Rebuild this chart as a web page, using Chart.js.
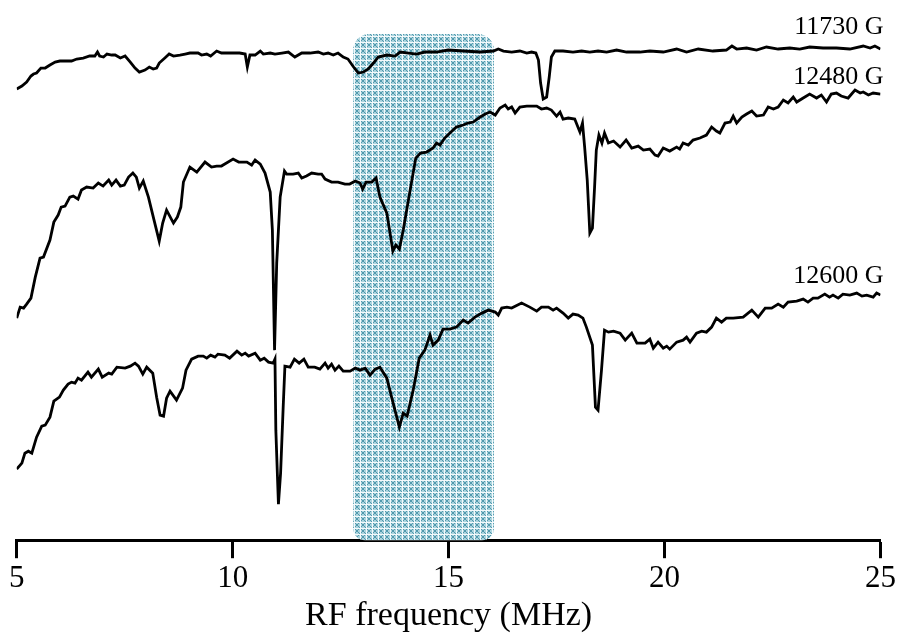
<!DOCTYPE html>
<html>
<head>
<meta charset="utf-8">
<script src="https://cdn.jsdelivr.net/npm/chart.js@4.4.0/dist/chart.umd.min.js"></script>
<style>
  body { margin: 0; background: #fff; }
  #wrap { width: 904px; height: 633px; }
</style>
</head>
<body>
<div id="wrap"><canvas id="grafico"></canvas></div>
<script>
// trazas de RMN, eje x en MHz, señal en unidades arbitrarias (desplazadas)
const labels = ['11730 G', '12480 G', '12600 G'];

const freq1 = [5.00,5.12,5.23,5.33,5.39,5.46,5.56,5.66,5.77,5.89,6.00,6.16,6.27,6.39,6.54,6.69,6.81,6.87,6.92,7.01,7.09,7.20,7.28,7.40,7.51,7.63,7.74,7.84,7.97,8.07,8.16,8.24,8.30,8.43,8.53,8.63,8.78,8.90,9.01,9.13,9.20,9.28,9.40,9.49,9.63,9.74,9.89,10.01,10.16,10.29,10.34,10.40,10.52,10.64,10.71,10.87,10.98,11.14,11.29,11.44,11.60,11.79,11.98,12.10,12.21,12.33,12.44,12.56,12.67,12.80,12.91,13.03,13.14,13.26,13.37,13.57,13.76,13.88,14.07,14.26,14.45,14.72,14.99,15.34,15.73,16.04,16.15,16.27,16.46,16.65,16.81,16.92,17.02,17.08,17.13,17.19,17.27,17.33,17.38,17.46,17.65,17.88,18.08,18.27,18.46,18.66,18.89,19.12,19.43,19.66,19.97,20.28,20.51,20.78,21.12,21.43,21.56,21.67,21.90,22.13,22.36,22.63,22.90,23.13,23.36,23.67,23.98,24.29,24.60,24.76,24.87,25.00];
const sig1 = [451,454,458,464,466,467,472,472,475,478,479,479,479,481,482,484,484,488,484,483,486,485,485,482,484,478,472,468,470,473,471,472,477,482,486,484,485,486,487,487,487,485,486,484,489,487,487,487,487,486,473,485,485,489,486,487,486,487,488,483,487,487,488,486,487,485,487,483,481,473,467,468,471,477,483,485,484,488,487,486,488,488,490,489,488,489,491,489,488,489,487,488,487,480,457,441,443,463,483,489,489,488,489,488,489,488,490,488,488,489,488,491,488,491,489,490,494,491,492,490,493,491,492,491,493,492,492,491,494,492,494,491];

const freq2 = [5.00,5.08,5.16,5.23,5.33,5.43,5.54,5.62,5.77,5.86,5.96,6.03,6.12,6.23,6.31,6.42,6.50,6.62,6.77,6.89,7.00,7.13,7.20,7.30,7.40,7.49,7.59,7.69,7.77,7.84,7.93,8.05,8.18,8.30,8.38,8.47,8.63,8.72,8.80,8.86,9.01,9.17,9.36,9.51,9.63,9.74,10.01,10.14,10.33,10.44,10.52,10.64,10.75,10.87,10.92,10.97,11.02,11.10,11.20,11.25,11.40,11.52,11.60,11.71,11.83,11.98,12.06,12.14,12.29,12.44,12.60,12.71,12.84,12.95,13.01,13.09,13.22,13.32,13.41,13.57,13.71,13.78,13.86,13.95,14.11,14.24,14.35,14.49,14.64,14.72,14.80,14.91,15.03,15.18,15.34,15.45,15.57,15.73,15.85,15.96,16.08,16.19,16.31,16.38,16.46,16.54,16.65,16.81,17.04,17.15,17.27,17.38,17.50,17.58,17.65,17.77,17.92,18.04,18.10,18.15,18.21,18.27,18.33,18.38,18.42,18.48,18.55,18.61,18.70,18.82,18.97,19.11,19.24,19.39,19.51,19.66,19.78,19.85,19.97,20.12,20.28,20.35,20.43,20.55,20.66,20.82,20.97,21.09,21.20,21.28,21.40,21.52,21.59,21.67,21.79,21.90,22.02,22.13,22.29,22.40,22.52,22.63,22.75,22.86,22.98,23.06,23.21,23.36,23.52,23.63,23.75,23.86,23.98,24.09,24.25,24.41,24.53,24.60,24.72,24.83,25.00];
const sig2 = [222,233,232,236,242,263,282,283,300,318,325,333,334,343,344,341,350,353,352,357,354,360,355,360,354,355,363,367,363,352,359,343,320,299,317,330,317,323,333,358,373,368,378,373,374,374,381,378,378,375,380,376,367,348,310,190,277,343,369,366,366,367,362,364,367,366,366,361,358,358,356,356,359,357,351,358,358,362,343,327,289,295,291,310,350,382,387,388,392,397,395,402,407,413,415,417,418,423,426,428,425,432,435,431,433,427,433,434,434,431,432,430,424,428,421,422,421,408,417,393,360,307,312,353,390,405,397,407,397,399,393,400,392,394,390,391,385,384,392,389,393,391,397,395,400,402,405,413,409,407,417,418,424,417,423,426,429,424,425,433,431,433,440,437,443,438,442,446,442,445,438,446,447,444,442,450,447,448,445,447,446];

const freq3 = [5.00,5.12,5.19,5.27,5.35,5.46,5.58,5.66,5.77,5.86,5.99,6.08,6.19,6.27,6.35,6.42,6.50,6.65,6.73,6.89,6.98,7.13,7.20,7.32,7.51,7.63,7.74,7.82,7.92,8.01,8.15,8.24,8.32,8.40,8.47,8.55,8.70,8.84,8.92,9.05,9.20,9.32,9.40,9.49,9.59,9.66,9.82,9.93,10.10,10.21,10.29,10.37,10.52,10.64,10.73,10.83,10.94,10.98,11.00,11.06,11.11,11.17,11.21,11.33,11.43,11.54,11.65,11.75,11.90,12.02,12.14,12.21,12.29,12.37,12.46,12.56,12.72,12.84,12.95,13.07,13.18,13.30,13.41,13.57,13.68,13.80,13.86,13.95,14.04,14.18,14.32,14.45,14.57,14.64,14.76,14.87,15.03,15.18,15.34,15.45,15.61,15.77,15.92,16.08,16.15,16.23,16.35,16.46,16.69,16.88,17.04,17.15,17.31,17.42,17.50,17.65,17.77,17.88,18.00,18.11,18.19,18.33,18.40,18.46,18.54,18.61,18.70,18.82,18.97,19.09,19.24,19.36,19.55,19.66,19.74,19.85,19.97,20.05,20.12,20.28,20.43,20.51,20.59,20.74,20.86,20.97,21.09,21.20,21.32,21.43,21.59,21.82,22.02,22.17,22.33,22.48,22.63,22.75,22.86,23.06,23.21,23.32,23.44,23.55,23.71,23.82,23.90,24.02,24.13,24.29,24.45,24.57,24.68,24.83,24.91,25.00];
const sig3 = [71,77,87,89,87,103,114,115,123,139,143,150,156,158,157,162,160,168,163,171,163,167,166,173,172,174,177,174,166,173,167,143,125,124,142,149,140,152,170,181,184,184,182,185,183,186,185,182,189,185,187,184,187,180,182,178,177,181,110,36,67,133,174,173,181,177,181,173,173,171,177,172,176,170,174,169,169,172,170,172,165,171,173,162,143,123,113,127,124,150,182,190,205,195,200,211,211,213,220,217,223,227,230,228,225,232,233,232,237,233,229,233,233,230,232,227,222,226,225,222,213,195,133,130,170,210,208,209,207,200,207,197,197,201,192,198,192,194,191,198,200,203,198,207,209,208,213,222,218,222,222,223,230,223,232,232,236,233,238,239,241,238,242,242,246,243,245,242,246,245,247,244,245,243,247,245];

// posición de las etiquetas de cada traza (señal en la línea base del texto)
const labelY = [506, 456, 257];

// región sombreada (MHz y altura)
const bandaIni = 12.79;
const bandaFin = 16.05;
const bandaTop = 506;

const series = [[freq1, sig1], [freq2, sig2], [freq3, sig3]];

function crearPatron() {
    const c = document.createElement('canvas');
    c.width = 6; c.height = 6;
    const g = c.getContext('2d');
    g.fillStyle = '#acd4de';
    g.fillRect(0, 0, 6, 6);
    g.fillStyle = '#5199ad';
    for (let i = 0; i < 6; i++) {
        g.fillRect(i, i, 1, 1);
        g.fillRect(5 - i, i, 1, 1);
    }
    g.fillStyle = '#f4fafc';
    g.fillRect(0, 0, 6, 1);
    g.fillRect(0, 0, 1, 6);
    return g.createPattern(c, 'repeat');
}

const sombra = {
    id: 'sombra',
    beforeDatasetsDraw(chart) {
        const { ctx, scales } = chart;
        const x0 = scales.x.getPixelForValue(bandaIni);
        const x1 = scales.x.getPixelForValue(bandaFin);
        const y0 = scales.y.getPixelForValue(bandaTop);
        const y1 = scales.y.getPixelForValue(0);
        ctx.save();
        ctx.fillStyle = crearPatron();
        ctx.beginPath();
        ctx.roundRect(x0, y0, x1 - x0, y1 - y0, [16, 16, 12, 12]);
        ctx.fill();
        ctx.restore();
    }
};

const etiquetas = {
    id: 'etiquetas',
    afterDatasetsDraw(chart) {
        const { ctx, scales } = chart;
        ctx.save();
        ctx.font = '26px "Liberation Serif"';
        ctx.fillStyle = '#000';
        ctx.textAlign = 'right';
        ctx.textBaseline = 'alphabetic';
        labels.forEach((t, i) => {
            ctx.fillText(t, scales.x.getPixelForValue(25) + 3, scales.y.getPixelForValue(labelY[i]));
        });
        ctx.restore();
    }
};

document.addEventListener('DOMContentLoaded', function () {
    const ctx = document.getElementById('grafico').getContext('2d');
    new Chart(ctx, {
        type: 'line',
        data: {
            datasets: series.map((s, i) => ({
                label: labels[i],
                data: s[0].map((f, j) => ({ x: f, y: s[1][j] })),
                borderColor: '#000',
                borderWidth: 2.8,
                pointRadius: 0,
                tension: 0,
                fill: false
            }))
        },
        options: {
            responsive: true,
            maintainAspectRatio: false,
            animation: false,
            layout: { padding: { left: 16.7, right: 23.3, top: 0, bottom: 0 } },
            plugins: { legend: { display: false }, tooltip: { enabled: false } },
            scales: {
                x: {
                    type: 'linear',
                    min: 5, max: 25,
                    grid: { drawOnChartArea: false, drawTicks: true, tickLength: 18, tickWidth: 3, tickColor: '#000' },
                    border: { display: true, color: '#000', width: 3 },
                    ticks: { stepSize: 5, color: '#000', padding: 8, maxRotation: 0,
                             font: { family: 'Liberation Serif', size: 31, lineHeight: 0.8 } },
                    title: { display: true, text: 'RF frequency (MHz)', color: '#000', padding: { top: 0, bottom: 0 },
                             font: { family: 'Liberation Serif', size: 34, lineHeight: 1 } }
                },
                y: { display: false, min: 0, max: 540 }
            }
        },
        plugins: [sombra, etiquetas]
    });
});
</script>
</body>
</html>
